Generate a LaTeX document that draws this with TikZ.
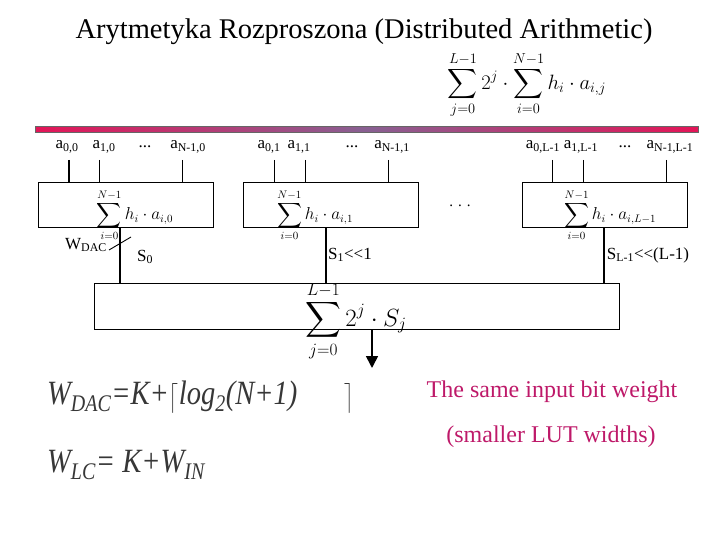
\documentclass[tikz,border=0pt]{standalone}
\usepackage{amsmath}
\usepackage{graphicx}
\usepackage{fontspec}
\setmainfont{Liberation Serif}
\usetikzlibrary{arrows.meta}
\definecolor{barred}{RGB}{226,22,88}
\definecolor{barpurple}{RGB}{136,96,146}
\definecolor{pinktxt}{RGB}{190,25,105}
\definecolor{formgray}{RGB}{55,55,55}
\begin{document}
\begin{tikzpicture}[x=1pt,y=-1pt,
  box/.style={draw, line width=0.9pt, minimum height=45pt, inner sep=0pt},
  lab/.style={font=\fontsize{17}{20}\selectfont, inner sep=0pt},
  inwire/.style={line width=0.9pt},
  outwire/.style={line width=1.6pt},
  sumf/.style={font=\fontsize{16}{18}\selectfont, inner sep=0pt},
  bigf/.style={font=\fontsize{34}{38}\selectfont\itshape, text=formgray, inner sep=0pt, anchor=west},
  pinkf/.style={font=\fontsize{24}{28}\selectfont, text=pinktxt, inner sep=0pt}]
\useasboundingbox (0,0) rectangle (720,540);
% title
\node[font=\fontsize{28.5}{32}\selectfont, inner sep=0pt] (title) at (364,32) {Arytmetyka Rozproszona (Distributed Arithmetic)};
% top formula
\node[font=\fontsize{22.5}{26}\selectfont, inner sep=0pt] (topf) at (527,85) {$\displaystyle\sum_{j=0}^{L-1}2^{j}\cdot\sum_{i=0}^{N-1}h_i\cdot a_{i,j}$};
% bar
\foreach \i in {0,...,65} {
  \pgfmathsetmacro{\mixval}{abs(\i-32.5)/32.5*100}
  \fill[barred!\mixval!barpurple] ({35+\i*10.045},126) rectangle ++(10.6,6);
}
\draw[draw=black!60, line width=0.4pt] (35,126) rectangle (698,132);
% boxes
\node[box, minimum width=175pt] (b1) at (125.5,204.5) {};
\node[box, minimum width=175pt] (b2) at (330.5,204.5) {};
\node[box, minimum width=165pt] (b3) at (604.5,204.5) {};
\node[box, minimum width=525pt, minimum height=46pt] (b4) at (356.5,306) {};
% formulas in boxes
\node[sumf] (f1) at (135,215) {$\displaystyle\sum_{i=0}^{N-1}h_i\cdot a_{i,0}$};
\node[sumf] (f2) at (315,215) {$\displaystyle\sum_{i=0}^{N-1}h_i\cdot a_{i,1}$};
\node[sumf] (f3) at (610,215) {$\displaystyle\sum_{i=0}^{N-1}h_i\cdot a_{i,L-1}$};
\node[font=\fontsize{23}{26}\selectfont, inner sep=0pt] (f4) at (356,321) {$\displaystyle\sum_{j=0}^{L-1}2^{j}\cdot S_j$};
% input labels
\node[lab] (l00) at (67,147) {a\textsubscript{0,0}};
\node[lab] (l10) at (104,147) {a\textsubscript{1,0}};
\node[lab] (d0) at (145,147) {...};
\node[lab] (lN0) at (188,147) {a\textsubscript{N-1,0}};
\node[lab] (l01) at (269,147) {a\textsubscript{0,1}};
\node[lab] (l11) at (299,147) {a\textsubscript{1,1}};
\node[lab] (d1) at (352,147) {...};
\node[lab] (lN1) at (392,147) {a\textsubscript{N-1,1}};
\node[lab] (l0L) at (543,147) {a\textsubscript{0,L-1}};
\node[lab] (l1L) at (581,147) {a\textsubscript{1,L-1}};
\node[lab] (dL) at (625,147) {...};
\node[lab] (lNL) at (670,147) {a\textsubscript{N-1,L-1}};
% input wires
\coordinate (p00) at (69,160);
\coordinate (p10) at (99,160);
\coordinate (pN0) at (182,160);
\coordinate (p01) at (274,160);
\coordinate (p11) at (305,160);
\coordinate (pN1) at (388,160);
\coordinate (p0L) at (552,160);
\coordinate (p1L) at (583,160);
\coordinate (pNL) at (666,160);
\draw[inwire, line width=1.6pt] (p00) -- (p00 |- b1.north);
\foreach \p in {p10,pN0} \draw[inwire] (\p) -- (\p |- b1.north);
\foreach \p in {p01,p11,pN1} \draw[inwire] (\p) -- (\p |- b2.north);
\foreach \p in {p0L,p1L,pNL} \draw[inwire] (\p) -- (\p |- b3.north);
% outputs
\coordinate (o1) at (120,250);
\coordinate (o2) at (326,250);
\coordinate (o3) at (604,250);
\draw[outwire] (o1 |- b1.south) -- (o1 |- b4.north);
\draw[outwire] (o2 |- b2.south) -- (o2 |- b4.north);
\draw[outwire] (o3 |- b3.south) -- (o3 |- b4.north);
% dots between boxes
\node[font=\fontsize{15}{18}\selectfont, inner sep=0pt] (dots) at (460,206) {. . .};
% W_DAC slash
\coordinate (s1) at (109,250);
\coordinate (s2) at (131,237);
\draw[line width=0.9pt] (s1) -- (s2);
\node[lab] (wdac) at (86,245) {W\textsubscript{DAC}};
\node[lab] (s0) at (145,257) {S\textsubscript{0}};
\node[lab] (s1l) at (350,255) {S\textsubscript{1}<{}<1};
\node[lab] (sLl) at (648,255) {S\textsubscript{L-1}<{}<(L-1)};
% output arrow
\coordinate (ar) at (372,368);
\draw[outwire, -{Triangle[width=12pt,length=12pt]}] (ar |- b4.south) -- (ar);
% bottom formulas
\node[bigf] (fdac) at (47,397) {\scalebox{0.84}[1]{W\textsubscript{DAC}=K+$\big\lceil$log\textsubscript{2}(N+1)\hspace{56pt}$\big\rceil$}};
\node[bigf] (flc) at (47,465) {\scalebox{0.84}[1]{W\textsubscript{LC}= K+W\textsubscript{IN}}};
% pink text
\node[pinkf] (p1) at (552,392) {The same input bit weight};
\node[pinkf] (p2) at (551,437) {(smaller LUT widths)};
\end{tikzpicture}
\end{document}
